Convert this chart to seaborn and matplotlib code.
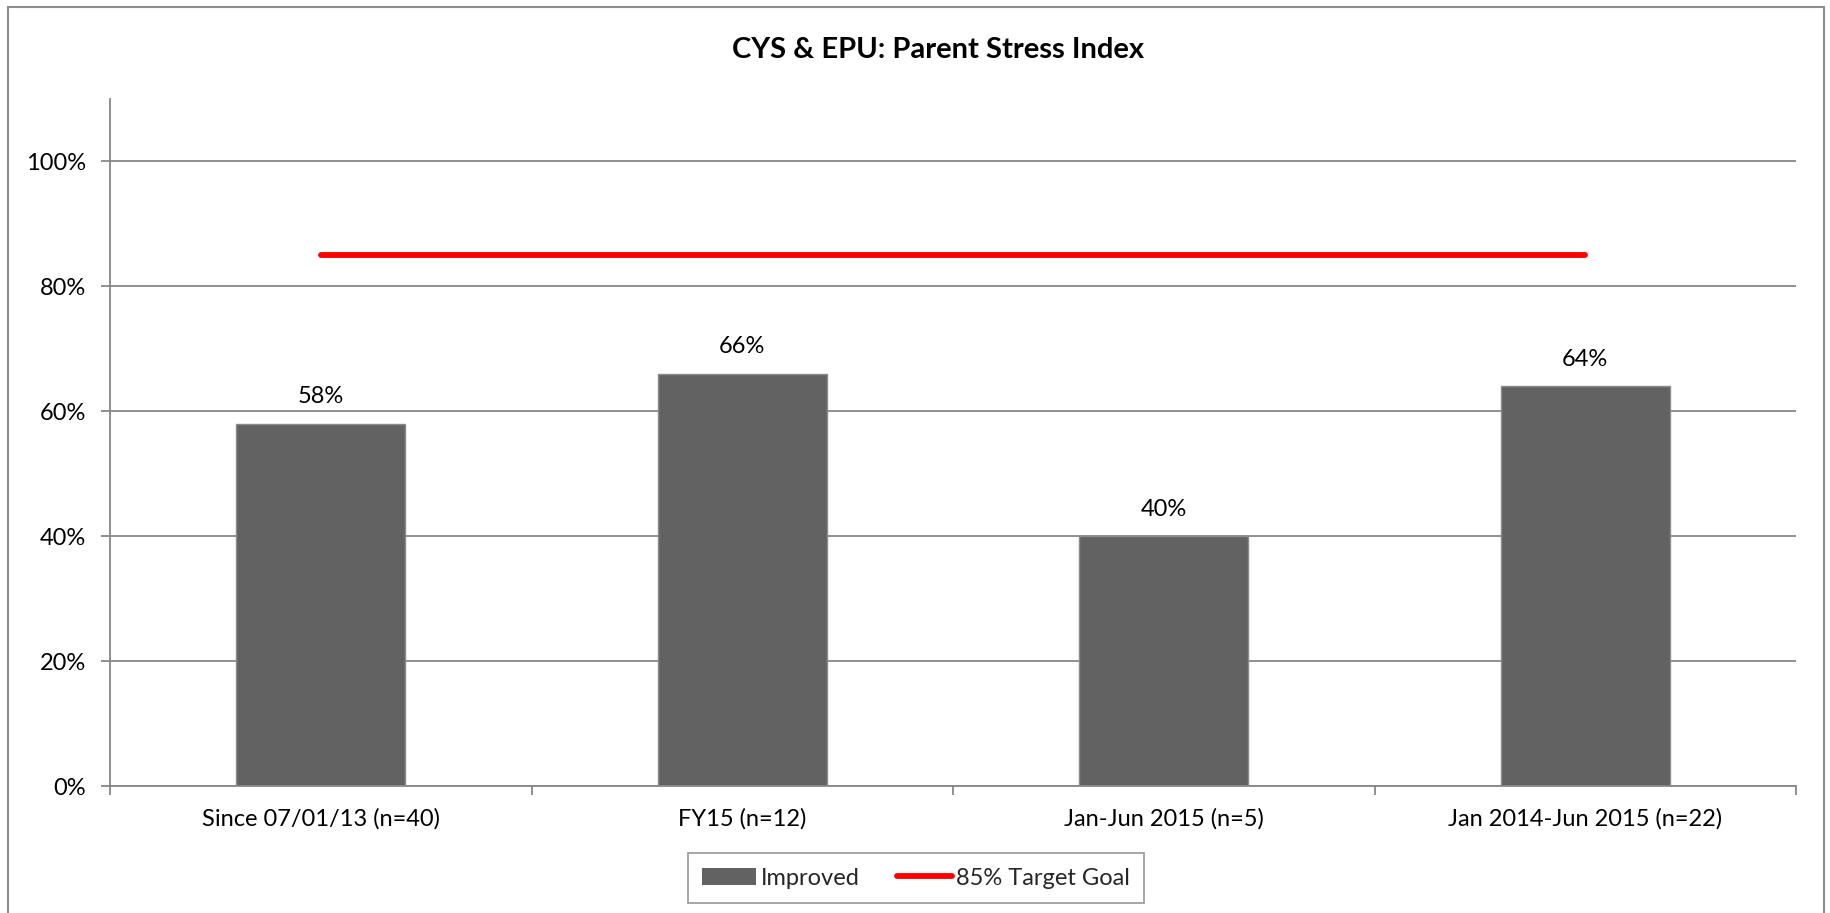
import matplotlib
matplotlib.use("Agg")
import matplotlib.pyplot as plt
import matplotlib.patches as mpatches
from matplotlib.lines import Line2D
from matplotlib.ticker import FixedLocator, PercentFormatter
import seaborn as sns
import pandas as pd

# Chart data
categories = ['Since 07/01/13 (n=40)', 'FY15 (n=12)', 'Jan-Jun 2015 (n=5)', 'Jan 2014-Jun 2015 (n=22)']
improved = [0.58, 0.66, 0.40, 0.64]
target_goal = [0.85, 0.85, 0.85, 0.85]
bar_labels = ['58%', '66%', '40%', '64%']
y_ticks = [0.0, 0.2, 0.4, 0.6, 0.8, 1.0]

GRID_GREY = '#878787'
BAR_GREY = '#626262'
FONT = 'Lato'
TEXT_SIZE = 17


def plot_parent_stress(data: pd.DataFrame):
    """Bar chart of improvement rate with the target goal line."""
    sns.set_theme(style='white')
    plt.rcParams['font.family'] = [FONT, 'DejaVu Sans']

    fig = plt.figure(figsize=(18.31, 9.13), dpi=100)
    ax = fig.add_axes([0.0601, 0.1391, 0.9809 - 0.0601, 0.8916 - 0.1391])

    sns.barplot(data=data, x='category', y='improved', color=BAR_GREY, width=0.4,
                saturation=1, edgecolor='#8c8c8c', linewidth=1, ax=ax)
    sns.pointplot(data=data, x='category', y='target', color='red', markers='',
                  linestyles='-', linewidth=4.2, solid_capstyle='round', ax=ax)

    ax.bar_label(ax.containers[0], labels=bar_labels, padding=12, fontsize=TEXT_SIZE, color='black')

    ax.set_ylim(0, 1.1)
    ax.set_xlim(-0.5, 3.5)
    ax.yaxis.set_major_locator(FixedLocator(y_ticks))
    ax.yaxis.set_major_formatter(PercentFormatter(1.0, decimals=0))
    ax.grid(axis='y', color=GRID_GREY, linewidth=1.3)
    ax.set_axisbelow(True)

    ax.xaxis.set_minor_locator(FixedLocator([-0.5, 0.5, 1.5, 2.5, 3.5]))
    ax.tick_params(axis='x', which='major', length=0, pad=16, labelsize=TEXT_SIZE, labelcolor='black')
    ax.tick_params(axis='x', which='minor', length=6.5, width=1.3, color=GRID_GREY, direction='out', bottom=True)
    ax.tick_params(axis='y', length=6.5, width=1.3, color=GRID_GREY, direction='out', left=True,
                   pad=11, labelsize=TEXT_SIZE, labelcolor='black')
    ax.set_xlabel('')
    ax.set_ylabel('')

    for side in ['top', 'right']:
        ax.spines[side].set_visible(False)
    for side in ['left', 'bottom']:
        ax.spines[side].set_color(GRID_GREY)
        ax.spines[side].set_linewidth(1.3)

    fig.text(0.5125, 1 - 50 / 913, 'CYS & EPU: Parent Stress Index', ha='center', va='center',
             fontsize=21, fontweight='bold', color='black')

    handles = [mpatches.Patch(facecolor=BAR_GREY, edgecolor='none'),
               Line2D([0], [0], color='red', linewidth=4.2, solid_capstyle='round')]
    leg = fig.legend(handles, ['Improved', '85% Target Goal'], loc='center', ncol=2,
                     bbox_to_anchor=(916 / 1831, 1 - 878 / 913), fontsize=TEXT_SIZE, frameon=True,
                     fancybox=False, edgecolor=GRID_GREY, handlelength=2.3, handleheight=0.75,
                     handletextpad=0.2, columnspacing=1.6, borderpad=0.6, borderaxespad=0)
    leg.get_frame().set_linewidth(1.3)

    # outer chart-area border, bottom edge runs off the image
    border = mpatches.Rectangle((8 / 1831, -0.05), (1824 - 8) / 1831, 1 - 7 / 913 + 0.05,
                                transform=fig.transFigure, fill=False, edgecolor='#8c8c8c',
                                linewidth=1.5)
    fig.patches.append(border)

    fig.savefig('out.png', dpi=100)


df = pd.DataFrame({'category': categories, 'improved': improved, 'target': target_goal})
plot_parent_stress(df)
